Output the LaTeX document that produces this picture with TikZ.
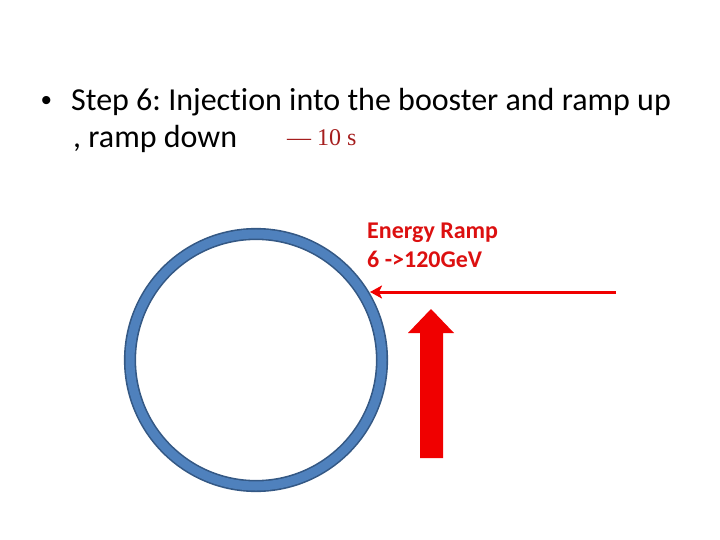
\documentclass[tikz,border=0pt]{standalone}
\usepackage{fontspec}
\setmainfont{Carlito}[Ligatures=NoCommon]
\newfontfamily\serifrm{Liberation Serif}
\newfontfamily\bulfont{Liberation Sans}
\usetikzlibrary{arrows.meta}
\frenchspacing
\definecolor{ringblue}{RGB}{79,129,189}
\definecolor{ringedge}{RGB}{52,88,132}
\definecolor{arrred}{RGB}{240,0,0}
\definecolor{txtred}{RGB}{220,16,16}
\definecolor{timered}{RGB}{165,30,30}
\tikzset{
  title/.style={anchor=base west, inner sep=0pt, font=\frenchspacing\fontsize{32}{38}\selectfont},
  lbl/.style={anchor=base west, inner sep=0pt, text=txtred, font=\bfseries\fontsize{24}{28}\selectfont},
  ringstyle/.style={circle, draw=ringedge, double=ringblue, double distance=9pt, line width=1.6pt, minimum size=252pt, inner sep=0pt},
  thinarrow/.style={draw=arrred, line width=3pt, -{Stealth[length=12pt,width=13pt,inset=3pt]}},
  blockarrow/.style={fill=arrred, draw=none}
}
\begin{document}
\begin{tikzpicture}[x=1pt,y=-1pt]
\useasboundingbox (0,0) rectangle (720,540);
\node[anchor=base west, inner sep=0pt, font=\bulfont\fontsize{30}{36}\selectfont] (bullet) at (41,111) {•};
\node[title] (line1) at (71,111) {Step 6: Injection into the booster and ramp up};
\node[title] (line2) at (73,148) {, ramp down};
\node[anchor=base west, inner sep=0pt, text=timered, font=\serifrm\fontsize{24}{28}\selectfont] (time) at (287,146) {— 10 s};
\node[lbl] (l1) at (367,239) {Energy Ramp};
\node[lbl] (l2) at (367,267) {6 ->120GeV};
\node[ringstyle] (ring) at (256,360) {};
\coordinate (astart) at (616,292);
\coordinate (atip) at (370,292);
\draw[thinarrow] (astart) -- (atip);
\coordinate (uptip) at (431,309);
\fill[blockarrow] (420,458) -- (420,333) -- (408,333) -- (uptip) -- (454,333) -- (443,333) -- (443,458) -- cycle;
\end{tikzpicture}
\end{document}
